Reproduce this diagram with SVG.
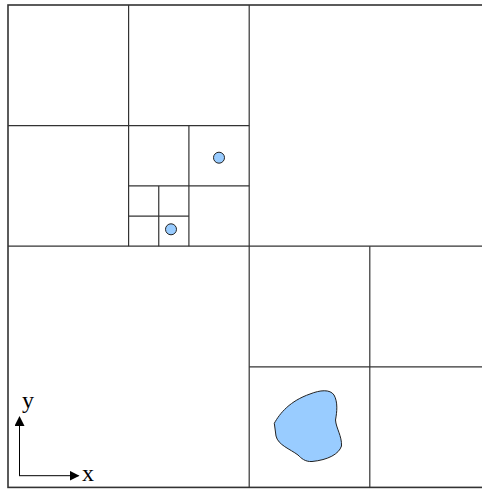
<svg xmlns="http://www.w3.org/2000/svg" width="482" height="489" viewBox="0 0 482 489">
<defs>
<style>
.g{fill:none;stroke:#333;stroke-width:1.2}
.o{fill:none;stroke:#333;stroke-width:1.6}
.pt{fill:#99ccff;stroke:#222;stroke-width:1}
.ax{stroke:#000;stroke-width:1;fill:none}
.lbl{font-family:"Liberation Serif",serif;font-size:24px;fill:#000}
</style>
<marker id="ah" markerWidth="10" markerHeight="10" refX="9" refY="5" orient="auto" markerUnits="userSpaceOnUse">
<path d="M0,0 L10,5 L0,10 Z" fill="#000"/>
</marker>
</defs>
<rect width="482" height="489" fill="#fff"/>
<g id="grid">
<rect class="o" x="8" y="5" width="482" height="482.4"/>
<line class="g" x1="128.6" y1="5" x2="128.6" y2="246.2"/>
<line class="g" x1="249.2" y1="5" x2="249.2" y2="487.4"/>
<line class="g" x1="8" y1="125.6" x2="249.2" y2="125.6"/>
<line class="g" x1="8" y1="246.2" x2="490.4" y2="246.2"/>
<line class="g" x1="188.9" y1="125.6" x2="188.9" y2="246.2"/>
<line class="g" x1="128.6" y1="185.9" x2="249.2" y2="185.9"/>
<line class="g" x1="158.75" y1="185.9" x2="158.75" y2="246.2"/>
<line class="g" x1="128.6" y1="216.05" x2="188.9" y2="216.05"/>
<line class="g" x1="369.8" y1="246.2" x2="369.8" y2="487.4"/>
<line class="g" x1="249.2" y1="366.8" x2="490.4" y2="366.8"/>
</g>
<g id="points">
<circle class="pt" cx="219" cy="157.7" r="5.5"/>
<circle class="pt" cx="171" cy="229.3" r="5.5"/>
</g>
<g id="region">
<path class="pt" d="M274.3,423.3 C280,413 290,401 310,394 C320,390 330,389 334,395 C338,402 337,412 335.5,420 C336,428 342,436 341.5,446 C339,454 328,460 312,461.5 C305,462 301,458 298,455 C290,449 278,445 276,436 Z"/>
</g>
<g id="axes">
<line class="ax" x1="19.5" y1="475.7" x2="19.5" y2="417" marker-end="url(#ah)"/>
<line class="ax" x1="19" y1="475.7" x2="78.5" y2="475.7" marker-end="url(#ah)"/>
<text class="lbl" x="22" y="408">y</text>
<text class="lbl" x="82" y="481">x</text>
</g>
</svg>
